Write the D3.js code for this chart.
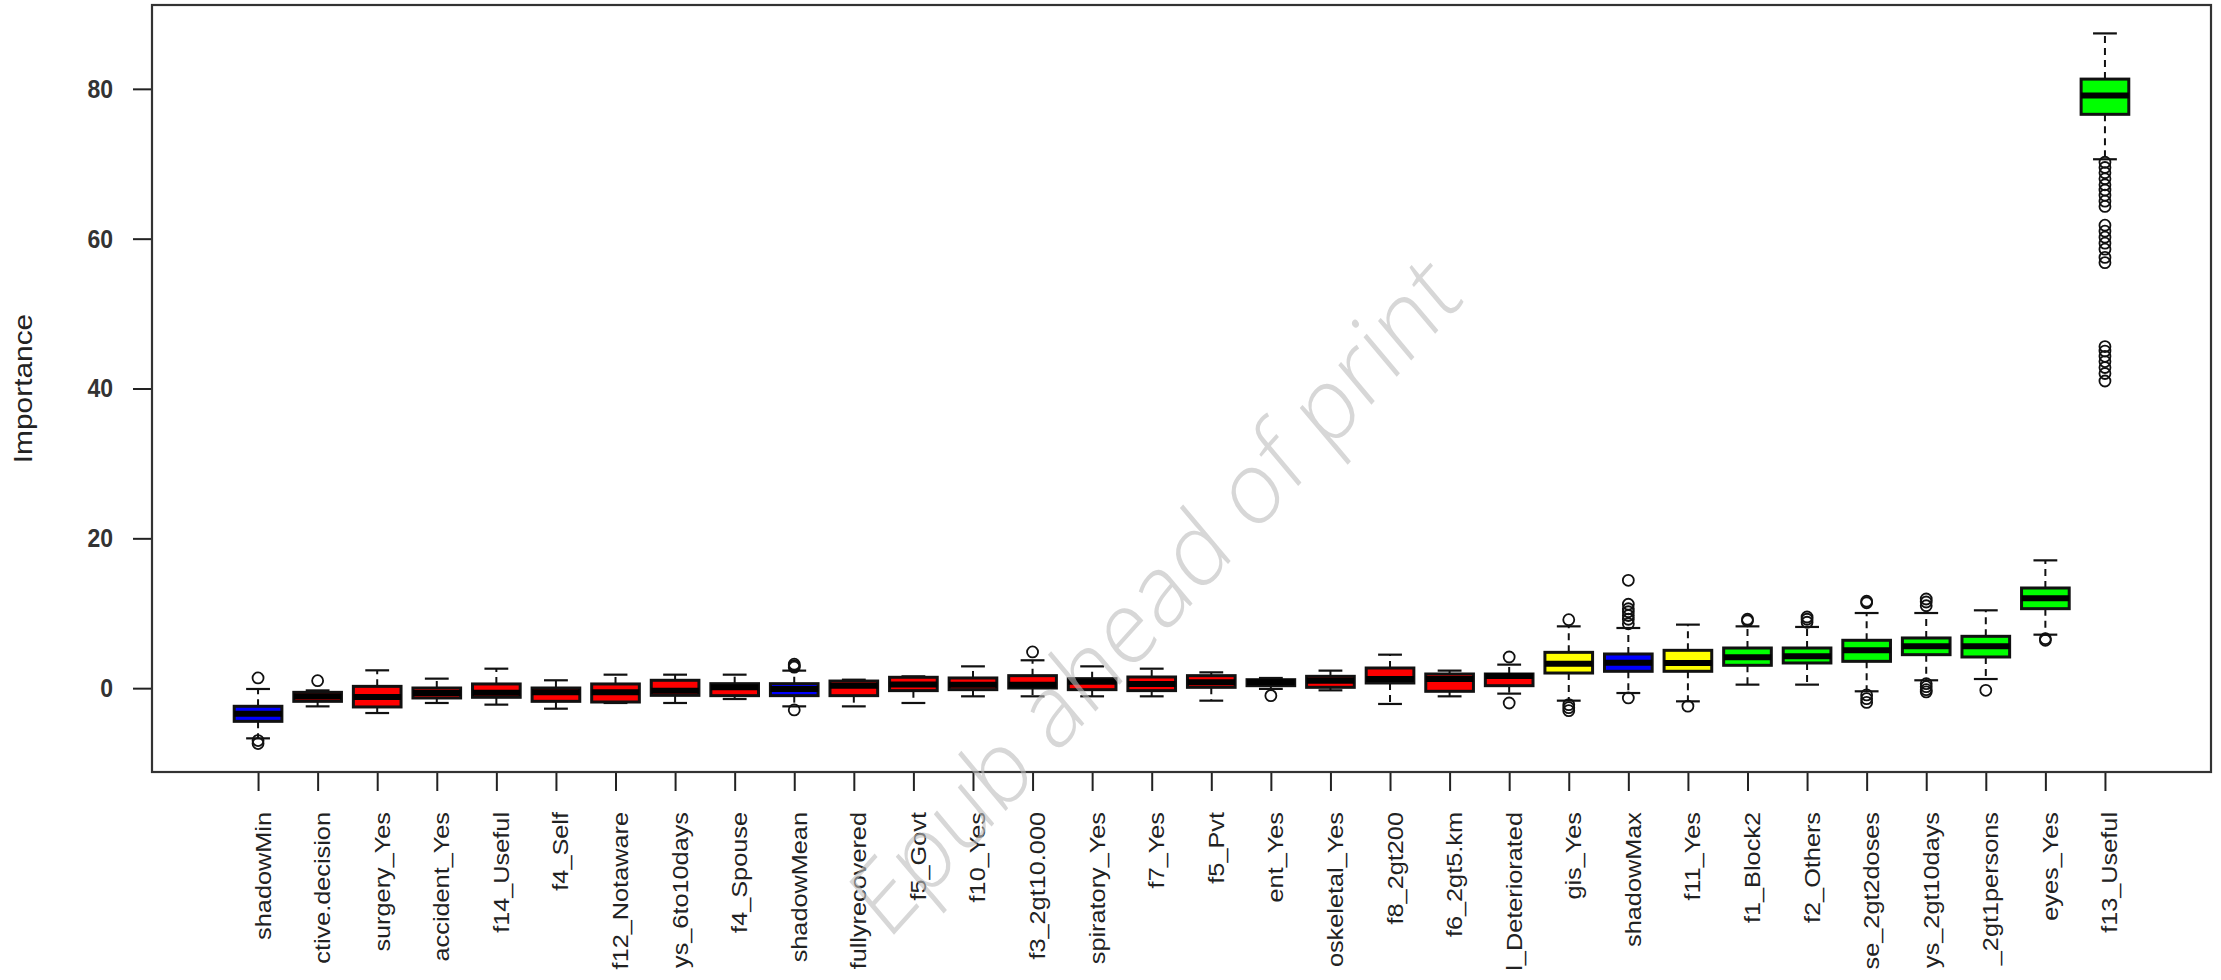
<!DOCTYPE html>
<html>
<head>
<meta charset="utf-8">
<script src="https://cdn.jsdelivr.net/npm/d3@7"></script>
<style>
  body { margin: 0; background: #fff; }
  text { font-family: "Liberation Sans", Arial, sans-serif; }
</style>
</head>
<body>
<div id="chart"></div>
<script>
// Boruta importance boxplot, one box per attribute (sorted by median)
var labels = ["shadowMin", "ctive.decision", "surgery_Yes", "accident_Yes", "f14_Useful", "f4_Self",
  "f12_Notaware", "ys_6to10days", "f4_Spouse", "shadowMean", "fullyrecovered", "f5_Govt", "f10_Yes",
  "f3_2gt10.000", "spiratory_Yes", "f7_Yes", "f5_Pvt", "ent_Yes", "oskeletal_Yes", "f8_2gt200",
  "f6_2gt5.km", "l_Deteriorated", "gis_Yes", "shadowMax", "f11_Yes", "f1_Block2", "f2_Others",
  "se_2gt2doses", "ys_2gt10days", "_2gt1persons", "eyes_Yes", "f13_Useful"];

// shadow / rejected / tentative / confirmed
var decision = ["shadow", "rejected", "rejected", "rejected", "rejected", "rejected",
  "rejected", "rejected", "rejected", "shadow", "rejected", "rejected", "rejected",
  "rejected", "rejected", "rejected", "rejected", "rejected", "rejected", "rejected",
  "rejected", "rejected", "tentative", "shadow", "tentative", "confirmed", "confirmed",
  "confirmed", "confirmed", "confirmed", "confirmed", "confirmed"];

var whiskerLo = [-6.7, -2.43, -3.32, -1.98, -2.2, -2.74, -1.98, -1.98, -1.45, -2.43, -2.43, -1.98, -1.09,
  -1.09, -1.09, -1.09, -1.67, -0.1, -0.29, -2.11, -1.09, -0.73, -1.67, -0.65, -1.76, 0.47, 0.47,
  -0.42, 1.05, 1.22, 7.14, 70.6];
var q1 = [-4.43, -1.76, -2.51, -1.31, -1.22, -1.76, -1.85, -0.96, -1.0, -1.0, -1.0, -0.33, -0.2,
  0.02, -0.2, -0.33, 0.11, 0.33, 0.11, 0.69, -0.42, 0.33, 2.02, 2.25, 2.25, 3.05, 3.36,
  3.58, 4.47, 4.16, 10.61, 76.6];
var medians = [-3.4, -1.1, -1.18, -0.65, -0.6, -0.56, -0.56, -0.33, 0.12, -0.1, 0.32, 0.5, 0.47,
  0.47, 0.85, 0.56, 0.78, 0.78, 1.0, 1.22, 1.22, 1.62, 3.27, 3.4, 3.36, 4.12, 4.25,
  5.05, 5.58, 5.58, 11.99, 79.1];
var q3 = [-2.42, -0.56, 0.24, 0.02, 0.56, 0.02, 0.56, 1.05, 0.6, 0.6, 0.95, 1.45, 1.36,
  1.67, 1.27, 1.49, 1.67, 1.13, 1.58, 2.69, 1.89, 1.89, 4.78, 4.56, 5.05, 5.36, 5.36,
  6.39, 6.7, 6.92, 13.37, 81.3];
var whiskerHi = [-0.11, -0.3, 2.38, 1.27, 2.6, 1.05, 1.8, 1.8, 1.8, 2.34, 1.13, 1.58, 2.91,
  3.72, 2.91, 2.6, 2.11, 1.36, 2.34, 4.47, 2.34, 3.14, 8.25, 8.03, 8.48, 8.25, 8.17,
  10.03, 10.03, 10.39, 17.06, 87.4];
var outliers = [
  [1.36, -7.0, -7.4], [1.0], [], [], [], [], [], [], [], [2.8, 3.0, 3.2, -2.9],
  [], [], [], [4.83], [], [], [], [-1.0], [], [], [], [4.16, -1.98],
  [9.14, -2.2, -2.6, -3.0], [8.6, 9.2, 9.7, 10.2, 10.6, 11.2, 14.4, -1.31], [-2.4],
  [9.0, 9.2], [8.8, 9.2, 9.5], [11.4, 11.6, -0.9, -1.4, -1.9],
  [11.0, 11.5, 11.9, 0.6, 0.2, -0.2, -0.5], [-0.29], [6.39, 6.6],
  [70.2, 69.5, 68.8, 68.0, 67.2, 66.5, 65.8, 65.0, 64.3, 61.8, 61.0, 60.2, 59.4, 58.6,
   57.5, 56.8, 45.6, 45.0, 44.3, 43.6, 42.8, 42.0, 41.0]
];
var yTicks = [0, 20, 40, 60, 80];

var fillColor = {shadow: "#0000ff", rejected: "#ff0000", tentative: "#ffff00", confirmed: "#00ff00"};

var svgWidth = 2221;
var svgHeight = 980;
var frame = {left: 152, right: 2211, top: 5, bottom: 772};
var textStretch = 1.15;   // the picture is a bit taller than the original plot

var svg = d3.select("#chart")
  .append("svg")
  .attr("width", svgWidth)
  .attr("height", svgHeight)
  .style("display", "block");

svg.append("rect")
  .attr("width", svgWidth)
  .attr("height", svgHeight)
  .attr("fill", "#fff");

// scales, R style: 4% padding around data range
var n = labels.length;
var xScale = d3.scaleLinear()
  .domain([0.5 - 0.04 * n, n + 0.5 + 0.04 * n])
  .range([frame.left, frame.right]);

var allValues = whiskerLo.concat(whiskerHi, d3.merge(outliers));
var yMin = d3.min(allValues), yMax = d3.max(allValues);
var yPad = 0.04 * (yMax - yMin);
var yScale = d3.scaleLinear()
  .domain([yMin - yPad, yMax + yPad])
  .range([frame.bottom, frame.top]);

var boxWidth = xScale(1.8) - xScale(1);
var idx = d3.range(n);

// axes
var xAxis = svg.append("g")
  .attr("transform", `translate(0, ${frame.bottom})`)
  .call(d3.axisBottom(xScale)
    .tickValues(idx.map(i => i + 1))
    .tickFormat(d => labels[d - 1])
    .tickSize(19)
    .tickSizeOuter(0));
xAxis.select(".domain").remove();
xAxis.selectAll("line").attr("stroke", "#222").attr("stroke-width", 2);
xAxis.selectAll("text")
  .attr("x", null).attr("y", null).attr("dy", null)
  .attr("text-anchor", "end")
  .attr("transform", `translate(12, 40) scale(1, ${textStretch}) rotate(-90)`)
  .style("font-size", "22px")
  .style("fill", "#222");

var yAxis = svg.append("g")
  .attr("transform", `translate(${frame.left}, 0)`)
  .call(d3.axisLeft(yScale)
    .tickValues(yTicks)
    .tickSize(19)
    .tickPadding(20));
yAxis.select(".domain").remove();
yAxis.selectAll("line").attr("stroke", "#222").attr("stroke-width", 2);
yAxis.selectAll("text")
  .attr("transform", `scale(1, ${textStretch})`)
  .style("font-size", "23px")
  .style("font-weight", "bold")
  .style("fill", "#333");

// y label
svg.append("text")
  .attr("transform", `translate(32, ${(frame.top + frame.bottom) / 2}) scale(1, ${textStretch}) rotate(-90)`)
  .attr("text-anchor", "middle")
  .style("font-size", "26px")
  .style("fill", "#222")
  .text("Importance");

// boxes
var boxes = svg.append("g");

// dashed whiskers
boxes.selectAll(".whisker-hi")
  .data(idx).enter().append("line")
  .attr("x1", i => xScale(i + 1)).attr("x2", i => xScale(i + 1))
  .attr("y1", i => yScale(q3[i])).attr("y2", i => yScale(whiskerHi[i]))
  .attr("stroke", "#111").attr("stroke-width", 2).attr("stroke-dasharray", "7,5");
boxes.selectAll(".whisker-lo")
  .data(idx).enter().append("line")
  .attr("x1", i => xScale(i + 1)).attr("x2", i => xScale(i + 1))
  .attr("y1", i => yScale(q1[i])).attr("y2", i => yScale(whiskerLo[i]))
  .attr("stroke", "#111").attr("stroke-width", 2).attr("stroke-dasharray", "7,5");

// staples
[whiskerLo, whiskerHi].forEach(function(arr) {
  boxes.append("g").selectAll("line")
    .data(idx).enter().append("line")
    .attr("x1", i => xScale(i + 1) - boxWidth / 4)
    .attr("x2", i => xScale(i + 1) + boxWidth / 4)
    .attr("y1", i => yScale(arr[i])).attr("y2", i => yScale(arr[i]))
    .attr("stroke", "#111").attr("stroke-width", 2.2);
});

// box body
boxes.append("g").selectAll("rect")
  .data(idx).enter().append("rect")
  .attr("x", i => xScale(i + 1) - boxWidth / 2)
  .attr("width", boxWidth)
  .attr("y", i => yScale(q3[i]))
  .attr("height", i => yScale(q1[i]) - yScale(q3[i]))
  .attr("fill", i => fillColor[decision[i]])
  .attr("stroke", "#111")
  .attr("stroke-width", 3);

// medians
boxes.append("g").selectAll("line")
  .data(idx).enter().append("line")
  .attr("x1", i => xScale(i + 1) - boxWidth / 2)
  .attr("x2", i => xScale(i + 1) + boxWidth / 2)
  .attr("y1", i => yScale(medians[i])).attr("y2", i => yScale(medians[i]))
  .attr("stroke", "#000").attr("stroke-width", 6);

// outliers
var outlierPoints = d3.merge(outliers.map((arr, i) => arr.map(v => ({i: i, v: v}))));
boxes.append("g").selectAll("circle")
  .data(outlierPoints).enter().append("circle")
  .attr("cx", d => xScale(d.i + 1))
  .attr("cy", d => yScale(d.v))
  .attr("r", 5.5)
  .attr("fill", "none")
  .attr("stroke", "#111")
  .attr("stroke-width", 1.8);

// plot frame
svg.append("rect")
  .attr("x", frame.left).attr("y", frame.top)
  .attr("width", frame.right - frame.left)
  .attr("height", frame.bottom - frame.top)
  .attr("fill", "none")
  .attr("stroke", "#333")
  .attr("stroke-width", 2.2);

// watermark across the plot (light, semi transparent, on top)
svg.append("text")
  .attr("transform", `translate(1152, 592) scale(1, ${textStretch}) rotate(-44)`)
  .attr("text-anchor", "middle")
  .attr("dominant-baseline", "central")
  .style("font-size", "90px")
  .style("font-weight", "300")
  .style("font-family", "'Open Sans', 'Liberation Sans', sans-serif")
  .style("fill", "#bdbdbd")
  .style("opacity", 0.6)
  .text("Epub ahead of print");
</script>
</body>
</html>
